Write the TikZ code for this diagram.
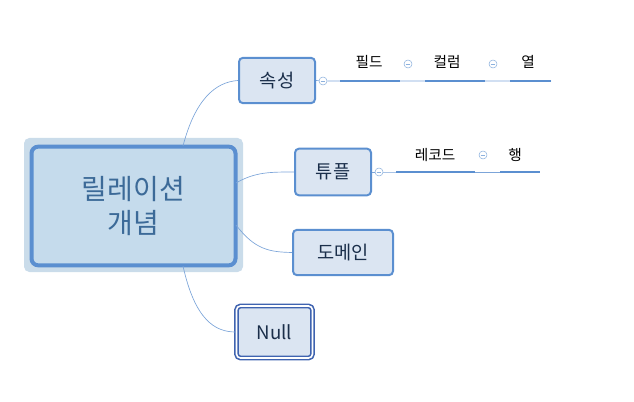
\documentclass[tikz,border=0pt]{standalone}
\usepackage{fontspec}
\setmainfont{Noto Sans CJK KR}
\definecolor{boxfill}{HTML}{DBE5F2}
\definecolor{boxline}{HTML}{5B8FD0}
\definecolor{corefill}{HTML}{C5DBEC}
\definecolor{coreframe}{HTML}{CADCEA}
\definecolor{inkdark}{HTML}{1A2E4A}
\definecolor{inkcore}{HTML}{3C6A98}
\definecolor{nullline}{HTML}{3F63B0}
\tikzset{
  topic/.style={draw=boxline, line width=1.5pt, fill=boxfill, rounded corners=3pt, text=inkdark, font=\fontsize{14}{16}\selectfont},
  link/.style={draw=boxline!80, line width=0.5pt},
  knob/.style={circle, draw=boxline!70, fill=white, inner sep=0pt, minimum size=6pt},
  bar/.style={draw=boxline, line width=2pt},
  leaf/.style={text=black, font=\fontsize{11}{13}\selectfont}
}
\begin{document}
\begin{tikzpicture}[x=0.75pt,y=-0.75pt]
\useasboundingbox (0,0) rectangle (634,402);

% central topic
\fill[coreframe, rounded corners=4pt] (24,138) rectangle (243,272);
\node[draw=boxline, line width=3pt, fill=corefill, rounded corners=5pt, minimum width=153pt, minimum height=89pt,
  text=inkcore, font=\fontsize{21}{25}\selectfont, align=center] (core) at (133.5,206) {릴레이션\\개념};

% main topics
\node[topic, minimum width=57pt, minimum height=34pt] (attr) at (277,80.5) {속성};
\node[topic, minimum width=57pt, minimum height=35pt] (tuple) at (333,172) {튜플};
\node[topic, minimum width=75pt, minimum height=34pt] (domain) at (343,252.5) {도메인};
\node[topic, draw=nullline, line width=1.2pt, double=white, double distance=1.2pt, minimum width=57pt, minimum height=39pt] (null) at (274.5,332) {Null};

% branches
\draw[link] (183,146) .. controls (195,100) and (215,82) .. (attr.west);
\draw[link] (236,183) .. controls (255,172) and (270,172) .. (tuple.west);
\draw[link] (236,225) .. controls (255,250) and (270,252) .. (domain.west);
\draw[link] (183,266) .. controls (195,320) and (215,332) .. (null.west);

% attribute subtopics
\node[knob] (k1) at (323,81) {};
\coordinate (a1) at (340,81);
\coordinate (a2) at (551,81);
\draw[link] (attr.east) -- (k1) (k1) -- (a1) -- (a2);
\draw[bar] (340,81) -- (400,81);
\draw[bar] (425,81) -- (485,81);
\draw[bar] (510,81) -- (551,81);
\node[leaf] (field) at (369,62) {필드};
\node[knob] (k2) at (408,64) {};
\node[leaf] (column) at (447,62) {컬럼};
\node[knob] (k3) at (493,64) {};
\node[leaf] (row1) at (528,62) {열};
\foreach \k in {k2,k3} \draw[boxline!70] ([xshift=-1.8pt]\k.center) -- ([xshift=1.8pt]\k.center);
\draw[boxline!70] ([xshift=-1.8pt]k1.center) -- ([xshift=1.8pt]k1.center);

% tuple subtopics
\node[knob] (k4) at (379,172) {};
\coordinate (t1) at (396,172);
\coordinate (t2) at (540,172);
\draw[link] (tuple.east) -- (k4) (k4) -- (t1) -- (t2);
\draw[bar] (396,172) -- (475,172);
\draw[bar] (500,172) -- (540,172);
\node[leaf] (record) at (435,155) {레코드};
\node[knob] (k5) at (483,155) {};
\node[leaf] (row2) at (515,155) {행};
\foreach \k in {k4,k5} \draw[boxline!70] ([xshift=-1.8pt]\k.center) -- ([xshift=1.8pt]\k.center);
\end{tikzpicture}
\end{document}
